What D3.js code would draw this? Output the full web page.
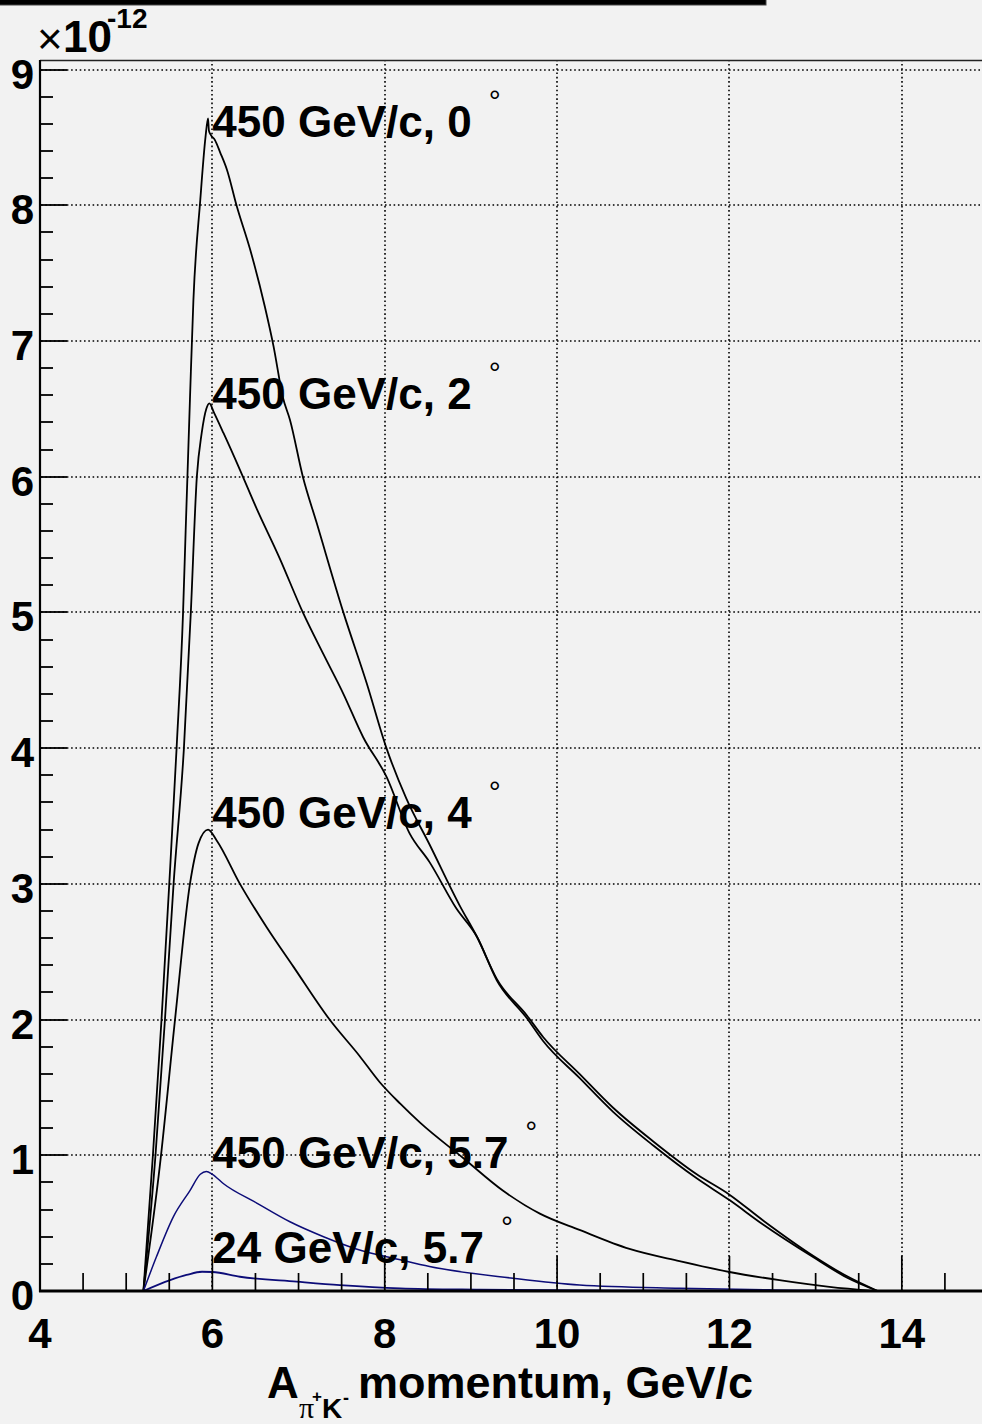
<!DOCTYPE html>
<html><head><meta charset="utf-8">
<script src="https://cdn.jsdelivr.net/npm/d3@7"></script>
<style>html,body{margin:0;padding:0;background:#f2f2f2;} svg{display:block;}</style>
</head><body>
<svg id="c" width="982" height="1424"></svg>
<script>
// ---------- data ----------
const xMajorTicks = [4, 6, 8, 10, 12, 14];
const xTickLabels = ["4", "6", "8", "10", "12", "14"];
const yMajorTicks = [0, 1, 2, 3, 4, 5, 6, 7, 8, 9];
const yTickLabels = ["0", "1", "2", "3", "4", "5", "6", "7", "8", "9"];

// 450 GeV/c, 0 mrad
const xA = [5.20,5.31,5.41,5.50,5.585,5.66,5.69,5.74,5.78,5.86,5.92,5.95,5.96,5.98,6.03,6.09,6.17,6.28,6.44,6.61,6.71,6.82,6.90,7.05,7.21,7.52,7.79,8.02,8.25,8.52,8.87,9.07,9.30,9.65,9.84,10.26,10.65,11.12,11.62,12.00,12.39,12.97,13.36,13.72];
const yA = [0,1.0,2.0,3.0,4.0,5.0,5.6,6.57,7.3,8.04,8.5,8.64,8.55,8.52,8.48,8.39,8.26,8.0,7.67,7.25,6.96,6.58,6.42,6.0,5.66,5.0,4.48,4.0,3.63,3.29,2.84,2.61,2.30,2.03,1.87,1.60,1.35,1.10,0.86,0.71,0.52,0.26,0.11,0];
// 450 GeV/c, 2 mrad
const xB = [5.20,5.34,5.45,5.55,5.67,5.75,5.82,5.876,5.93,5.965,6.02,6.13,6.32,6.51,6.78,7.05,7.29,7.52,7.75,8.02,8.29,8.52,8.83,9.07,9.30,9.65,9.84,10.26,10.65,11.12,11.62,12.00,12.39,12.97,13.36,13.72];
const yB = [0,1.0,2.0,3.0,4.0,5.0,6.0,6.32,6.50,6.54,6.47,6.32,6.05,5.77,5.40,5.0,4.69,4.40,4.08,3.79,3.37,3.16,2.82,2.61,2.29,2.01,1.84,1.57,1.32,1.07,0.83,0.67,0.49,0.25,0.10,0];
// 450 GeV/c, 4 mrad
const xC = [5.20,5.39,5.57,5.74,5.84,5.95,6.05,6.32,6.63,6.94,7.36,7.71,7.94,8.18,8.41,8.91,9.37,9.80,10.26,10.84,11.42,12.00,12.58,13.16,13.68];
const yC = [0,0.92,2.02,3.0,3.30,3.40,3.32,3.0,2.68,2.39,2.0,1.73,1.54,1.38,1.24,0.98,0.74,0.57,0.45,0.31,0.22,0.14,0.08,0.03,0];
// 450 GeV/c, 5.7 mrad
const xD = [5.20,5.35,5.55,5.74,5.86,5.93,6.00,6.13,6.51,6.90,7.29,7.67,8.18,8.52,9.49,10.26,11.42,12.50,13.70];
const yD = [0,0.25,0.55,0.74,0.86,0.88,0.86,0.79,0.65,0.51,0.40,0.31,0.23,0.18,0.094,0.044,0.02,0.008,0];
// 24 GeV/c, 5.7 mrad
const xE = [5.20,5.51,5.70,5.88,6.00,6.32,6.98,7.48,8.18,9.10,10.50,13.70];
const yE = [0,0.08,0.118,0.142,0.14,0.105,0.069,0.044,0.02,0.01,0.004,0];

const labelTexts = ["450 GeV/c, 0", "450 GeV/c, 2", "450 GeV/c, 4", "450 GeV/c, 5.7", "24 GeV/c, 5.7"];
const labelX = [6.0, 6.0, 6.0, 6.0, 6.0];
const labelY = [8.5, 6.5, 3.41, 0.906, 0.206];

// ---------- layout ----------
const svg = d3.select("#c");
const W = 982, H = 1424;
const x = d3.scaleLinear().domain([4, 15]).range([40, 988]);
const y = d3.scaleLinear().domain([0, 9.07]).range([1291, 60]);
const FONT = "'Liberation Sans', Arial, Helvetica, sans-serif";

svg.append("rect").attr("width", W).attr("height", H).attr("fill", "#f2f2f2");

// title box remnant at top
svg.append("rect").attr("x", -2).attr("y", -10).attr("width", 768).attr("height", 15)
  .attr("fill", "#000").attr("stroke", "#444").attr("stroke-width", 1);

// top frame line
svg.append("line").attr("x1", 40).attr("x2", 988).attr("y1", 60.5).attr("y2", 60.5)
  .attr("stroke", "#222").attr("stroke-width", 1.3);

// grid
const grid = svg.append("g").attr("stroke", "#000").attr("stroke-width", 1.6).attr("stroke-dasharray", "1.6,2.7");
grid.selectAll("line.gx").data(xMajorTicks.slice(1)).join("line")
  .attr("x1", d => Math.round(x(d))).attr("x2", d => Math.round(x(d)))
  .attr("y1", y(0)).attr("y2", 61);
grid.selectAll("line.gy").data(yMajorTicks.slice(1)).join("line")
  .attr("x1", 41).attr("x2", 988)
  .attr("y1", d => Math.round(y(d))).attr("y2", d => Math.round(y(d)));

// curves
const series = [
  {xs: xA, ys: yA, color: "#000", w: 1.8},
  {xs: xB, ys: yB, color: "#000", w: 1.8},
  {xs: xC, ys: yC, color: "#000", w: 1.8},
  {xs: xD, ys: yD, color: "#0c0c78", w: 1.5},
  {xs: xE, ys: yE, color: "#0c0c78", w: 1.8}
];
const line = d3.line().x(d => x(d[0])).y(d => y(d[1])).curve(d3.curveMonotoneX);
series.forEach(s => {
  const pts = s.xs.map((v, i) => [v, s.ys[i]]);
  svg.append("path").attr("d", line(pts))
    .attr("fill", "none").attr("stroke", s.color).attr("stroke-width", s.w)
    .attr("stroke-linejoin", "round");
});

// axes
const ax = svg.append("g").attr("stroke", "#000");
const xMinor = d3.range(4, 15.01, 0.5);
ax.selectAll("line.xt").data(xMinor).join("line")
  .attr("x1", d => x(d)).attr("x2", d => x(d))
  .attr("y1", y(0)).attr("y2", d => y(0) - (Math.abs(d % 2) < 1e-6 ? 35 : 18))
  .attr("stroke-width", 1.7);
const yMinor = d3.range(0, 9.001, 0.2);
ax.selectAll("line.yt").data(yMinor).join("line")
  .attr("x1", 40).attr("x2", d => 40 + (Math.abs(d - Math.round(d)) < 1e-6 ? 27 : 13))
  .attr("y1", d => Math.round(y(d))).attr("y2", d => Math.round(y(d)))
  .attr("stroke-width", 1.8);
ax.append("line").attr("x1", 40).attr("x2", 40).attr("y1", 60).attr("y2", y(0) + 1).attr("stroke-width", 2.2);
ax.append("line").attr("x1", 39).attr("x2", 988).attr("y1", y(0)).attr("y2", y(0)).attr("stroke-width", 3);

// tick labels
svg.selectAll("text.xl").data(xMajorTicks).join("text")
  .attr("x", d => x(d)).attr("y", 1348).attr("text-anchor", "middle")
  .attr("font-family", FONT).attr("font-weight", "bold").attr("font-size", 42)
  .text((d, i) => xTickLabels[i]);
svg.selectAll("text.yl").data(yMajorTicks).join("text")
  .attr("x", 34).attr("y", d => y(d) + 19).attr("text-anchor", "end")
  .attr("font-family", FONT).attr("font-weight", "bold").attr("font-size", 42)
  .text((d, i) => yTickLabels[i]);

// exponent
const ex = svg.append("text").attr("font-family", FONT).attr("font-weight", "bold");
ex.append("tspan").attr("x", 37).attr("y", 54).attr("font-size", 44).attr("font-weight", "normal").text("×");
ex.append("tspan").attr("x", 63).attr("y", 52).attr("font-size", 44).text("10");
ex.append("tspan").attr("x", 107).attr("y", 28).attr("font-size", 28).text("-12");

// x axis title
const xt = svg.append("text").attr("font-family", FONT).attr("font-weight", "bold");
xt.append("tspan").attr("x", 267).attr("y", 1398).attr("font-size", 44).text("A");
xt.append("tspan").attr("x", 299).attr("y", 1418).attr("font-size", 30).attr("font-weight", "normal")
  .attr("font-family", "'Liberation Serif', serif").text("π");
xt.append("tspan").attr("x", 312).attr("y", 1402).attr("font-size", 17).text("+");
xt.append("tspan").attr("x", 322).attr("y", 1418).attr("font-size", 28).text("K");
xt.append("tspan").attr("x", 343).attr("y", 1404).attr("font-size", 18).text("-");
xt.append("tspan").attr("x", 358).attr("y", 1398).attr("font-size", 45).text("momentum, GeV/c");

// curve labels
labelTexts.forEach((t, i) => {
  const tx = svg.append("text").attr("font-family", FONT).attr("font-weight", "bold").attr("font-size", 44);
  const main = tx.append("tspan").attr("x", x(labelX[i])).attr("y", y(labelY[i])).text(t);
  const len = main.node().getComputedTextLength();
  tx.append("tspan").attr("x", x(labelX[i]) + len + 17).attr("y", y(labelY[i]) - 26)
    .attr("font-size", 30).attr("font-weight", "normal").text("°");
});
</script>
</body></html>
